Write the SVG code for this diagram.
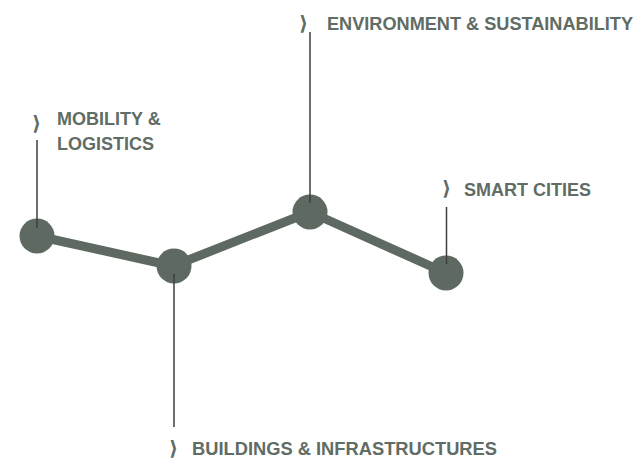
<svg xmlns="http://www.w3.org/2000/svg" width="641" height="460" viewBox="0 0 641 460">
<style>
.lbl{font-family:"Liberation Sans",Arial,sans-serif;font-weight:bold;font-size:18px;fill:#606c64}
.chev{font-family:"DejaVu Sans",sans-serif;font-weight:bold;font-size:20px;fill:#606c64}
.node{fill:#5d6961}
.pin{stroke:#3c3f3d;stroke-width:1.5}
.edge{fill:none;stroke:#5d6961;stroke-width:9;stroke-linejoin:round}
</style>
<rect width="641" height="460" fill="#ffffff"/>
<g id="connectors">
<polyline class="edge" points="37,236 173,266 310,212 446,273"/>
</g>
<g id="node-mobility">
<circle class="node" cx="37" cy="236" r="17.5"/>
<line class="pin" x1="37" y1="140" x2="37" y2="228"/>
<text class="chev" x="32" y="130">⟩</text>
<text class="lbl" x="57" y="125">MOBILITY &amp;</text>
<text class="lbl" x="57" y="150">LOGISTICS</text>
</g>
<g id="node-buildings">
<circle class="node" cx="174" cy="266" r="17.5"/>
<line class="pin" x1="174" y1="274" x2="174" y2="427"/>
<text class="chev" x="169" y="455">⟩</text>
<text class="lbl" x="192" y="455" textLength="305" lengthAdjust="spacingAndGlyphs">BUILDINGS &amp; INFRASTRUCTURES</text>
</g>
<g id="node-environment">
<circle class="node" cx="310" cy="212" r="17.5"/>
<line class="pin" x1="310" y1="32" x2="310" y2="203"/>
<text class="chev" x="299" y="30">⟩</text>
<text class="lbl" x="327" y="30" textLength="306" lengthAdjust="spacingAndGlyphs">ENVIRONMENT &amp; SUSTAINABILITY</text>
</g>
<g id="node-smart">
<circle class="node" cx="446" cy="273" r="17.5"/>
<line class="pin" x1="446.5" y1="207" x2="446.5" y2="264"/>
<text class="chev" x="442" y="195">⟩</text>
<text class="lbl" x="464" y="196">SMART CITIES</text>
</g>
</svg>
